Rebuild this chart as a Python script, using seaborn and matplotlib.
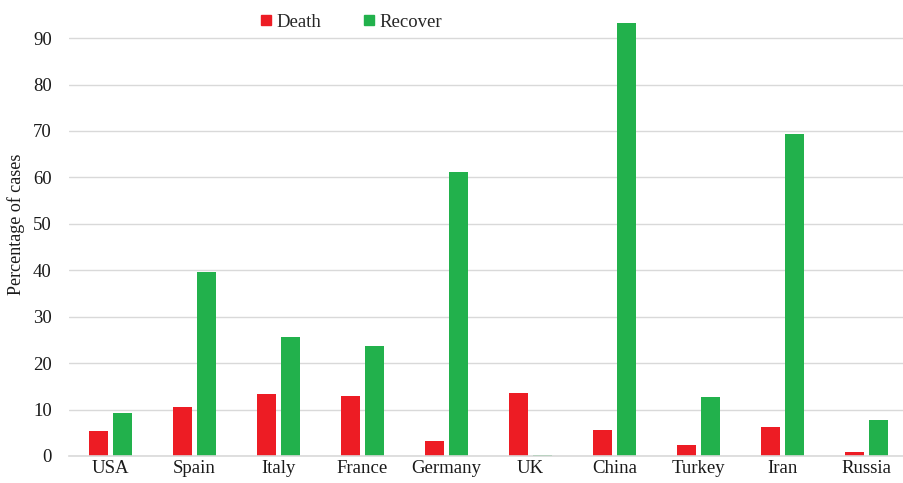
import matplotlib
matplotlib.use("Agg")
import matplotlib.pyplot as plt
import seaborn as sns
import pandas as pd
from matplotlib.lines import Line2D

countries = ["USA", "Spain", "Italy", "France", "Germany", "UK", "China", "Turkey", "Iran", "Russia"]
death = [5.4, 10.5, 13.3, 12.9, 3.2, 13.6, 5.6, 2.4, 6.2, 0.9]
recover = [9.3, 39.6, 25.6, 23.7, 61.2, 0.3, 93.2, 12.7, 69.3, 7.7]
yticks = [0, 10, 20, 30, 40, 50, 60, 70, 80, 90]

df = pd.DataFrame({
    "Country": countries * 2,
    "Value": death + recover,
    "Type": ["Death"] * len(countries) + ["Recover"] * len(countries),
})

sns.set_style("white")
plt.rcParams["font.family"] = ["Liberation Serif", "DejaVu Serif"]

fig = plt.figure(figsize=(9.04, 4.83), dpi=100)
ax = fig.add_axes([68.5 / 904, 27 / 483, 840 / 904, 456 / 483])

sns.barplot(data=df, x="Country", y="Value", hue="Type",
            palette={"Death": "#ED1C24", "Recover": "#22B14C"},
            width=0.57, gap=0.2, ax=ax, legend=False, saturation=1, linewidth=0)

fs = 13.5
ax.set_ylim(0, 98.2)
ax.set_xlim(-0.5, len(countries) - 0.5)
ax.set_yticks(yticks)
ax.set_yticklabels([str(t) for t in yticks], fontsize=fs, color="#1a1a1a")
ax.tick_params(axis="x", labelsize=fs, colors="#1a1a1a", length=0, pad=3)
ax.tick_params(axis="y", length=0, pad=12)
ax.yaxis.grid(True, color="#D9D9D9", linewidth=1)
ax.set_axisbelow(True)
for s in ["top", "right", "left"]:
    ax.spines[s].set_visible(False)
ax.spines["bottom"].set_color("#D9D9D9")
ax.spines["bottom"].set_linewidth(1.2)
ax.set_xlabel("")
ax.set_ylabel("Percentage of cases", fontsize=13, color="#1a1a1a")
ax.yaxis.set_label_coords(-0.052, 0.509)

handles = [Line2D([], [], marker="s", linestyle="", color="#ED1C24", markersize=7),
           Line2D([], [], marker="s", linestyle="", color="#22B14C", markersize=7)]
fig.legend(handles, ["Death", "Recover"], loc="center", bbox_to_anchor=(351 / 904, 1 - 22 / 483),
           ncol=2, frameon=False, fontsize=fs, handlelength=0.7, handletextpad=0.2,
           columnspacing=2.2)

fig.savefig("out.png", dpi=100)
